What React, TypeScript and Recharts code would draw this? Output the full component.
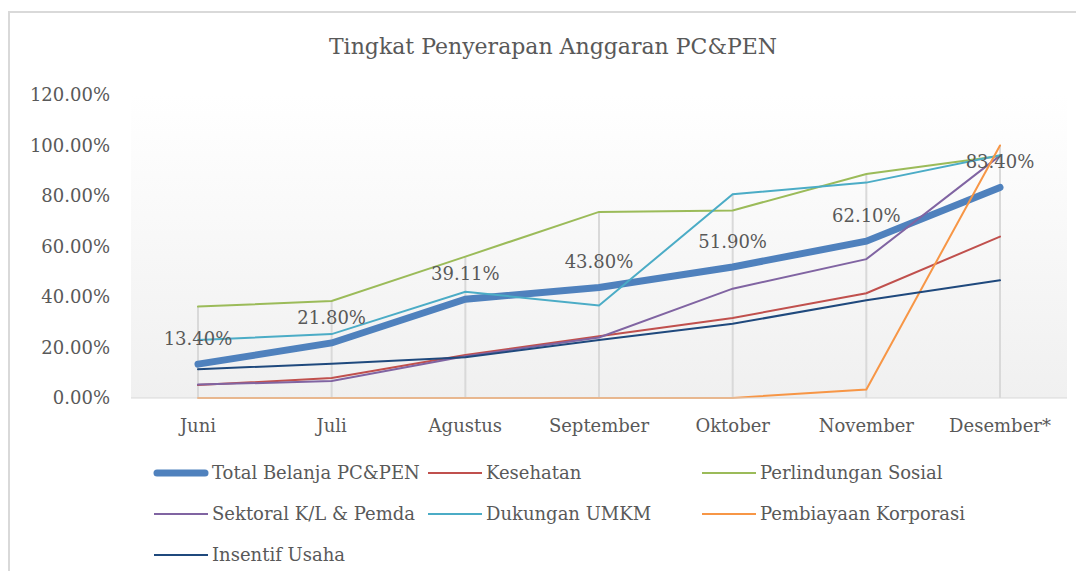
import { LineChart, Line, XAxis, YAxis, CartesianGrid, ReferenceLine, LabelList } from "recharts"

const months = ["Juni", "Juli", "Agustus", "September", "Oktober", "November", "Desember*"]
const totalBelanja = [13.4, 21.8, 39.11, 43.8, 51.9, 62.1, 83.4]
const kesehatan = [5.1, 7.9, 17.0, 24.5, 31.7, 41.5, 63.9]
const perlindunganSosial = [36.2, 38.4, 56.0, 73.7, 74.3, 88.7, 95.8]
const sektoral = [5.3, 6.7, 16.5, 24.0, 43.3, 55.0, 96.0]
const dukunganUmkm = [23.0, 25.3, 42.1, 36.6, 80.7, 85.3, 96.1]
const pembiayaanKorporasi = [0, 0, 0, 0, 0, 3.4, 100]
const insentifUsaha = [11.4, 13.6, 16.1, 23.0, 29.4, 38.7, 46.6]
const yTicks = [0, 20, 40, 60, 80, 100, 120]

const series = [
  { key: "total", name: "Total Belanja PC&PEN", values: totalBelanja, color: "#4f81bd", width: 7 },
  { key: "kesehatan", name: "Kesehatan", values: kesehatan, color: "#c0504d", width: 2 },
  { key: "perlinsos", name: "Perlindungan Sosial", values: perlindunganSosial, color: "#9bbb59", width: 2 },
  { key: "sektoral", name: "Sektoral K/L & Pemda", values: sektoral, color: "#8064a2", width: 2 },
  { key: "umkm", name: "Dukungan UMKM", values: dukunganUmkm, color: "#4bacc6", width: 2 },
  { key: "korporasi", name: "Pembiayaan Korporasi", values: pembiayaanKorporasi, color: "#f79646", width: 2 },
  { key: "insentif", name: "Insentif Usaha", values: insentifUsaha, color: "#1f497d", width: 2 },
]

const data = months.map((month, i) => {
  const row: Record<string, string | number> = { month }
  series.forEach((s) => (row[s.key] = s.values[i]))
  return row
})

// drop lines go from 0 up to the highest series at each month
const dropTops = months.map((_, i) => Math.max(...series.map((s) => s.values[i])))

const FONT = "'DejaVu Serif', serif"
const TEXT = "#595959"
const pct = (v: number) => `${Number(v).toFixed(2)}%`

export default function App() {
  return (
    <div style={{ paddingTop: 3 }}>
      <div
        style={{
          position: "relative",
          width: 1068,
          height: 560,
          boxSizing: "border-box",
          borderTop: "2px solid #d9d9d9",
          borderLeft: "2px solid #d9d9d9",
          fontFamily: FONT,
        }}
      >
        <div
          style={{
            position: "absolute",
            top: 20,
            left: 0,
            width: 1086,
            textAlign: "center",
            fontSize: 22,
            color: TEXT,
            lineHeight: "28px",
          }}
        >
          Tingkat Penyerapan Anggaran PC&amp;PEN
        </div>
        <LineChart width={1066} height={558} data={data} margin={{ top: 82, right: 9, left: 0, bottom: 133 }}>
          <defs>
            <linearGradient id="plotBg" x1="0" y1="0" x2="0" y2="1">
              <stop offset="0%" stopColor="#ffffff" />
              <stop offset="100%" stopColor="#f0f0f0" />
            </linearGradient>
          </defs>
          <CartesianGrid horizontal={false} vertical={false} fill="url(#plotBg)" />
          <XAxis
            dataKey="month"
            height={40}
            padding={{ left: 67, right: 67 }}
            tickLine={false}
            tickSize={0}
            tickMargin={21}
            axisLine={{ stroke: "#d9d9d9", strokeWidth: 1 }}
            tick={{ fontFamily: FONT, fontSize: 18, fill: TEXT }}
            interval={0}
          />
          <YAxis
            width={121}
            domain={[0, 120]}
            ticks={yTicks}
            tickFormatter={pct}
            axisLine={false}
            tickLine={false}
            tickSize={0}
            tickMargin={21}
            tick={{ fontFamily: FONT, fontSize: 18, fill: TEXT }}
          />
          {months.map((m, i) => (
            <ReferenceLine
              key={m}
              segment={[
                { x: m, y: 0 },
                { x: m, y: dropTops[i] },
              ]}
              stroke="#d9d9d9"
              strokeWidth={2}
            />
          ))}
          {series.map((s) => (
            <Line
              key={s.key}
              type="linear"
              dataKey={s.key}
              name={s.name}
              stroke={s.color}
              strokeWidth={s.width}
              strokeLinecap="round"
              dot={false}
              activeDot={false}
              isAnimationActive={false}
            >
              {s.key === "total" && (
                <LabelList
                  dataKey="total"
                  position="top"
                  offset={19}
                  formatter={(v: any) => pct(v)}
                  style={{ fontFamily: FONT, fontSize: 18, fill: TEXT }}
                />
              )}
            </Line>
          ))}
        </LineChart>
        <div
          style={{
            position: "absolute",
            top: 439,
            left: 143,
            width: 822,
            display: "grid",
            gridTemplateColumns: "274px 274px 274px",
            fontSize: 18,
            color: TEXT,
          }}
        >
          {series.map((s) => (
            <div key={s.key} style={{ display: "flex", alignItems: "center", height: 41, whiteSpace: "nowrap" }}>
              <svg width={56} height={10} style={{ marginRight: 3 }}>
                <line
                  x1={s.width > 2 ? 4 : 1}
                  y1={5}
                  x2={s.width > 2 ? 52 : 55}
                  y2={5}
                  stroke={s.color}
                  strokeWidth={s.width}
                  strokeLinecap={s.width > 2 ? "round" : "butt"}
                />
              </svg>
              <span>{s.name}</span>
            </div>
          ))}
        </div>
      </div>
    </div>
  )
}
